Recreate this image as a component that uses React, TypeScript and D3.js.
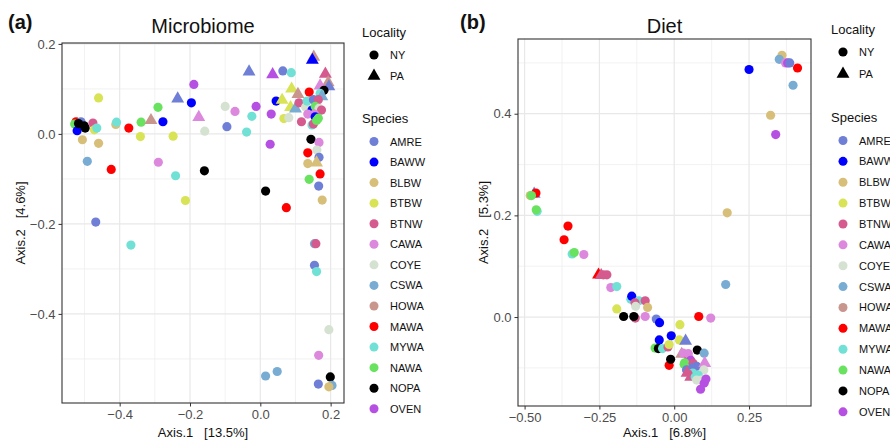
import React, { useRef, useEffect } from "react";
import * as d3 from "d3";

const species = ["AMRE", "BAWW", "BLBW", "BTBW", "BTNW", "CAWA", "COYE", "CSWA", "HOWA", "MAWA", "MYWA", "NAWA", "NOPA", "OVEN"];
const speciesColors = ["#6f7fd6", "#0000ff", "#d8bf79", "#d8e356", "#d55b8e", "#dc88dd", "#d6e2d1", "#79acd3", "#c9968d", "#ff0000", "#71e1d6", "#69e25f", "#000000", "#b650e3"];
const localities = ["NY", "PA"];

// [species, locality, Axis.1, Axis.2]
const microbiome: [string, string, number, number][] = [
  ["MAWA", "NY", -0.524, 0.027], ["NAWA", "NY", -0.528, 0.022], ["AMRE", "NY", -0.51, 0.027],
  ["BAWW", "NY", -0.521, 0.007], ["NOPA", "NY", -0.517, 0.023], ["NOPA", "NY", -0.501, 0.018],
  ["NOPA", "NY", -0.498, 0.013], ["BTNW", "NY", -0.476, 0.024], ["BTBW", "NY", -0.472, 0.009],
  ["MYWA", "NY", -0.465, 0.013], ["BLBW", "NY", -0.506, -0.013], ["BLBW", "NY", -0.46, -0.021],
  ["CSWA", "NY", -0.492, -0.061], ["BTBW", "NY", -0.46, 0.08], ["BLBW", "NY", -0.411, 0.021],
  ["MYWA", "NY", -0.409, 0.026], ["MAWA", "NY", -0.374, 0.013], ["MAWA", "NY", -0.424, -0.079],
  ["NAWA", "NY", -0.339, 0.026], ["HOWA", "PA", -0.311, 0.03], ["BTBW", "NY", -0.341, -0.006],
  ["NAWA", "NY", -0.291, 0.059], ["BAWW", "NY", -0.277, 0.027], ["AMRE", "PA", -0.235, 0.078],
  ["CAWA", "NY", -0.29, -0.063], ["BTBW", "NY", -0.248, -0.005], ["MYWA", "NY", -0.241, -0.093],
  ["BTBW", "NY", -0.213, -0.148], ["BAWW", "NY", -0.196, 0.069], ["OVEN", "NY", -0.189, 0.11],
  ["CAWA", "PA", -0.175, 0.037], ["COYE", "NY", -0.158, 0.006], ["NOPA", "NY", -0.159, -0.082],
  ["AMRE", "NY", -0.095, 0.016], ["COYE", "NY", -0.1, 0.061], ["AMRE", "NY", -0.468, -0.196],
  ["MYWA", "NY", -0.368, -0.247], ["CAWA", "NY", -0.072, 0.05], ["OVEN", "NY", -0.012, 0.061],
  ["MYWA", "NY", -0.024, 0.039], ["MYWA", "NY", -0.039, 0.004], ["AMRE", "PA", -0.032, 0.138],
  ["OVEN", "PA", 0.035, 0.132], ["AMRE", "NY", 0.064, 0.14], ["MYWA", "NY", 0.088, 0.136],
  ["OVEN", "NY", 0.031, 0.044], ["OVEN", "NY", 0.028, -0.023], ["NOPA", "NY", 0.015, -0.127],
  ["BAWW", "NY", 0.045, 0.073], ["BTBW", "PA", 0.062, 0.075], ["BTBW", "NY", 0.067, 0.034],
  ["COYE", "NY", 0.081, 0.036], ["BTBW", "PA", 0.089, 0.1], ["HOWA", "PA", 0.107, 0.088],
  ["BTBW", "PA", 0.086, 0.059], ["CSWA", "PA", 0.1, 0.056], ["MAWA", "NY", 0.139, 0.093],
  ["BTNW", "NY", 0.11, 0.069], ["BTNW", "NY", 0.117, 0.027], ["COYE", "NY", 0.129, 0.06],
  ["MYWA", "NY", 0.133, 0.073], ["HOWA", "PA", 0.152, 0.171], ["BAWW", "PA", 0.148, 0.164],
  ["BTNW", "PA", 0.185, 0.133], ["HOWA", "PA", 0.193, 0.114], ["AMRE", "PA", 0.195, 0.105],
  ["CAWA", "PA", 0.17, 0.107], ["NOPA", "NY", 0.181, 0.097], ["MYWA", "NY", 0.17, 0.09],
  ["CSWA", "PA", 0.175, 0.083], ["AMRE", "NY", 0.151, 0.076], ["BTNW", "NY", 0.165, 0.076],
  ["BAWW", "NY", 0.147, 0.053], ["NAWA", "NY", 0.156, 0.061], ["COYE", "NY", 0.167, 0.057],
  ["BTNW", "NY", 0.174, 0.053], ["CAWA", "NY", 0.135, 0.044], ["CAWA", "NY", 0.154, 0.044],
  ["BAWW", "NY", 0.156, 0.038], ["MYWA", "NY", 0.147, 0.02], ["BTNW", "NY", 0.151, 0.022],
  ["NAWA", "NY", 0.165, 0.035], ["NAWA", "NY", 0.16, 0.03], ["NOPA", "NY", 0.144, -0.012],
  ["CAWA", "NY", 0.167, -0.019], ["COYE", "NY", 0.161, -0.036], ["MAWA", "NY", 0.135, -0.042],
  ["AMRE", "NY", 0.167, -0.052], ["BLBW", "NY", 0.135, -0.066], ["BLBW", "PA", 0.16, -0.064],
  ["MAWA", "NY", 0.17, -0.089], ["NAWA", "NY", 0.139, -0.101], ["AMRE", "NY", 0.166, -0.116],
  ["BLBW", "NY", 0.176, -0.147], ["MAWA", "NY", 0.074, -0.164], ["CSWA", "NY", 0.154, -0.244],
  ["BTNW", "NY", 0.158, -0.244], ["AMRE", "NY", 0.154, -0.292], ["MYWA", "NY", 0.16, -0.306],
  ["COYE", "NY", 0.195, -0.435], ["CAWA", "NY", 0.166, -0.492], ["CSWA", "NY", 0.015, -0.538],
  ["CSWA", "NY", 0.048, -0.528], ["NOPA", "NY", 0.199, -0.54], ["AMRE", "NY", 0.165, -0.556],
  ["CSWA", "NY", 0.204, -0.559], ["BLBW", "NY", 0.195, -0.562],
];

const diet: [string, string, number, number][] = [
  ["BLBW", "NY", -0.481, 0.239], ["AMRE", "PA", -0.468, 0.242], ["MAWA", "NY", -0.462, 0.244],
  ["NAWA", "NY", -0.477, 0.239], ["MYWA", "NY", -0.458, 0.208], ["NAWA", "NY", -0.461, 0.211],
  ["MAWA", "NY", -0.355, 0.179], ["MAWA", "NY", -0.368, 0.152], ["MYWA", "NY", -0.341, 0.124],
  ["NAWA", "NY", -0.334, 0.127], ["CAWA", "NY", -0.302, 0.123], ["MAWA", "PA", -0.253, 0.083],
  ["BTNW", "PA", -0.244, 0.082], ["BTNW", "NY", -0.237, 0.083], ["BTNW", "NY", -0.225, 0.083],
  ["CAWA", "NY", -0.212, 0.058], ["MYWA", "NY", -0.192, 0.06], ["BTBW", "NY", -0.192, 0.016],
  ["NOPA", "NY", -0.169, 0.001], ["BTNW", "NY", -0.13, -0.002], ["NOPA", "NY", -0.135, 0.001],
  ["MYWA", "NY", -0.145, 0.035], ["BAWW", "NY", -0.142, 0.041], ["MYWA", "NY", -0.118, 0.032],
  ["BTNW", "NY", -0.131, 0.028], ["COYE", "NY", -0.129, 0.021], ["BTNW", "NY", -0.097, 0.032],
  ["BLBW", "NY", -0.089, 0.019], ["CAWA", "NY", -0.097, 0.001], ["AMRE", "NY", -0.06, -0.004],
  ["BAWW", "NY", -0.049, -0.011], ["BAWW", "NY", -0.05, -0.045], ["BAWW", "NY", -0.01, -0.037],
  ["NAWA", "NY", -0.064, -0.061], ["NOPA", "NY", -0.053, -0.062], ["MYWA", "NY", -0.039, -0.062],
  ["BTNW", "NY", -0.021, -0.059], ["BTBW", "NY", 0.019, -0.015], ["MAWA", "NY", -0.017, -0.095],
  ["NOPA", "NY", -0.012, -0.083], ["BTBW", "NY", -0.017, -0.054], ["BTBW", "NY", 0.017, -0.045],
  ["AMRE", "PA", 0.038, -0.047], ["NOPA", "NY", 0.077, -0.065], ["CSWA", "NY", 0.1, -0.071],
  ["MAWA", "NY", 0.082, 0.001], ["CAWA", "NY", 0.122, -0.002], ["CSWA", "NY", 0.172, 0.064],
  ["BLBW", "NY", 0.177, 0.205], ["BLBW", "NY", 0.322, 0.397], ["OVEN", "NY", 0.339, 0.359],
  ["BAWW", "NY", 0.25, 0.487], ["BLBW", "NY", 0.36, 0.515], ["CSWA", "NY", 0.351, 0.507],
  ["CAWA", "NY", 0.372, 0.5], ["OVEN", "NY", 0.379, 0.5], ["AMRE", "NY", 0.386, 0.5],
  ["MAWA", "NY", 0.412, 0.49], ["CSWA", "NY", 0.397, 0.456], ["HOWA", "PA", 0.025, -0.073],
  ["CAWA", "NY", 0.03, -0.071], ["NAWA", "NY", 0.033, -0.093], ["BTNW", "NY", 0.049, -0.081],
  ["CAWA", "NY", 0.047, -0.072], ["OVEN", "NY", 0.055, -0.085], ["NAWA", "NY", 0.035, -0.09],
  ["AMRE", "NY", 0.041, -0.104], ["BTNW", "NY", 0.063, -0.091], ["AMRE", "NY", 0.075, -0.097],
  ["AMRE", "NY", 0.06, -0.1], ["CAWA", "PA", 0.102, -0.091], ["COYE", "NY", 0.099, -0.104],
  ["MYWA", "NY", 0.062, -0.11], ["BTNW", "PA", 0.043, -0.11], ["BTNW", "PA", 0.055, -0.118],
  ["MYWA", "NY", 0.08, -0.114], ["MYWA", "NY", 0.07, -0.118], ["COYE", "NY", 0.075, -0.124],
  ["COYE", "NY", 0.091, -0.124], ["OVEN", "NY", 0.106, -0.122], ["OVEN", "NY", 0.1, -0.13],
  ["OVEN", "NY", 0.088, -0.142],
];

const microbiomeXTicks = [-0.4, -0.2, 0, 0.2];
const microbiomeYTicks = [-0.4, -0.2, 0, 0.2];
const dietXTicks = [-0.5, -0.25, 0, 0.25];
const dietYTicks = [0, 0.2, 0.4];

const panels = [
  {
    tag: "(a)", tagX: 8, title: "Microbiome", data: microbiome,
    xLabel: "Axis.1   [13.5%]", yLabel: "Axis.2   [4.6%]",
    xDomain: [-0.564, 0.238], yDomain: [-0.598, 0.202],
    box: { left: 62, top: 43, right: 344, bottom: 403 },
    xTicks: microbiomeXTicks, yTicks: microbiomeYTicks, xFmt: d3.format(".1f"), yFmt: d3.format(".1f"),
    yLabelX: 20, legendX: 362, legendTop: 37, locStep: 21, speciesTop: 123, speciesStep: 20.56,
  },
  {
    tag: "(b)", tagX: 460, title: "Diet", data: diet,
    xLabel: "Axis.1   [6.8%]", yLabel: "Axis.2   [5.3%]",
    xDomain: [-0.522, 0.457], yDomain: [-0.175, 0.547],
    box: { left: 518, top: 39, right: 811, bottom: 406 },
    xTicks: dietXTicks, yTicks: dietYTicks, xFmt: d3.format(".2f"), yFmt: d3.format(".1f"),
    yLabelX: 483, legendX: 831, legendTop: 34, locStep: 22, speciesTop: 122, speciesStep: 20.87,
  },
];

const FONT = "'Liberation Sans', Arial, Helvetica, sans-serif";

const App = () => {
  const ref = useRef<SVGSVGElement>(null);
  const width = 890;
  const height = 441;

  useEffect(() => {
    const svg = d3.select(ref.current);
    svg.selectAll("*").remove();
    svg.attr("width", width).attr("height", height).style("font-family", FONT);

    const color = d3.scaleOrdinal<string, string>().domain(species).range(speciesColors);
    const shape = d3.scaleOrdinal<string, d3.SymbolType>().domain(localities).range([d3.symbolCircle, d3.symbolTriangle]);
    const symSize = (loc: string) => (loc === "PA" ? 72 : 66);

    panels.forEach((p) => {
      const { left, top, right, bottom } = p.box;
      const x = d3.scaleLinear().domain(p.xDomain).range([left, right]);
      const y = d3.scaleLinear().domain(p.yDomain).range([bottom, top]);
      const g = svg.append("g");

      // grid: minor lines halfway between majors
      const xStep = p.xTicks[1] - p.xTicks[0];
      const yStep = p.yTicks[1] - p.yTicks[0];
      const minorX = d3.range(-6, 6).map((i) => p.xTicks[0] + (i + 0.5) * xStep)
        .filter((v) => v > p.xDomain[0] && v < p.xDomain[1]);
      const minorY = d3.range(-6, 6).map((i) => p.yTicks[0] + (i + 0.5) * yStep)
        .filter((v) => v > p.yDomain[0] && v < p.yDomain[1]);

      g.selectAll(".mx").data(minorX).enter().append("line")
        .attr("x1", (d) => x(d)).attr("x2", (d) => x(d)).attr("y1", top).attr("y2", bottom)
        .attr("stroke", "#efefef").attr("stroke-width", 0.8);
      g.selectAll(".my").data(minorY).enter().append("line")
        .attr("y1", (d) => y(d)).attr("y2", (d) => y(d)).attr("x1", left).attr("x2", right)
        .attr("stroke", "#efefef").attr("stroke-width", 0.8);
      g.selectAll(".gx").data(p.xTicks).enter().append("line")
        .attr("x1", (d) => x(d)).attr("x2", (d) => x(d)).attr("y1", top).attr("y2", bottom)
        .attr("stroke", "#e8e8e8").attr("stroke-width", 1.2);
      g.selectAll(".gy").data(p.yTicks).enter().append("line")
        .attr("y1", (d) => y(d)).attr("y2", (d) => y(d)).attr("x1", left).attr("x2", right)
        .attr("stroke", "#e8e8e8").attr("stroke-width", 1.2);

      // points
      g.selectAll(".pt").data(p.data).enter().append("path")
        .attr("transform", (d) => `translate(${x(d[2])},${y(d[3])})`)
        .attr("d", (d) => d3.symbol().type(shape(d[1])).size(symSize(d[1]))())
        .attr("fill", (d) => color(d[0]));

      // border
      g.append("rect")
        .attr("x", left).attr("y", top).attr("width", right - left).attr("height", bottom - top)
        .attr("fill", "none").attr("stroke", "#333").attr("stroke-width", 1.1);

      // axes
      const xAxis = g.append("g").attr("transform", `translate(0,${bottom})`)
        .call(d3.axisBottom(x).tickValues(p.xTicks).tickFormat((d) => p.xFmt(d as number)).tickSize(3.5).tickPadding(3));
      const yAxis = g.append("g").attr("transform", `translate(${left},0)`)
        .call(d3.axisLeft(y).tickValues(p.yTicks).tickFormat((d) => p.yFmt(d as number)).tickSize(3.5).tickPadding(3));
      [xAxis, yAxis].forEach((a) => {
        a.select(".domain").remove();
        a.selectAll("line").attr("stroke", "#333");
        a.selectAll("text").attr("fill", "#4d4d4d").style("font-size", "13px").style("font-family", FONT);
      });

      // titles
      g.append("text").attr("x", (left + right) / 2).attr("y", 33).attr("text-anchor", "middle")
        .style("font-size", "20px").attr("fill", "#111").text(p.title);
      g.append("text").attr("x", p.tagX).attr("y", 29)
        .style("font-size", "20px").style("font-weight", "bold").attr("fill", "#111").text(p.tag);
      g.append("text").attr("x", (left + right) / 2).attr("y", 437).attr("text-anchor", "middle")
        .style("font-size", "13px").style("white-space", "pre").attr("fill", "#111").text(p.xLabel);
      g.append("text").attr("transform", `translate(${p.yLabelX + 5},${(top + bottom) / 2}) rotate(-90)`)
        .attr("text-anchor", "middle").style("font-size", "13px").style("white-space", "pre")
        .attr("fill", "#111").text(p.yLabel);

      // legends
      const lg = g.append("g").attr("transform", `translate(${p.legendX},0)`);
      lg.append("text").attr("x", 0).attr("y", p.legendTop).style("font-size", "13px").attr("fill", "#111").text("Locality");
      localities.forEach((loc, i) => {
        const cy = p.legendTop + 18 + i * p.locStep;
        lg.append("path").attr("transform", `translate(12,${cy})`)
          .attr("d", d3.symbol().type(shape(loc)).size(symSize(loc))()).attr("fill", "#000");
        lg.append("text").attr("x", 28).attr("y", cy + 4).style("font-size", "11px").attr("fill", "#111").text(loc);
      });
      lg.append("text").attr("x", 0).attr("y", p.speciesTop).style("font-size", "13px").attr("fill", "#111").text("Species");
      species.forEach((s, i) => {
        const cy = p.speciesTop + 18.5 + i * p.speciesStep;
        lg.append("circle").attr("cx", 12).attr("cy", cy).attr("r", 4.5).attr("fill", color(s));
        lg.append("text").attr("x", 28).attr("y", cy + 4).style("font-size", "11px").attr("fill", "#111").text(s);
      });
    });
  }, []);

  return <svg ref={ref} style={{ position: "absolute", left: 0, top: 0, background: "#fff" }}></svg>;
};

export default App;
